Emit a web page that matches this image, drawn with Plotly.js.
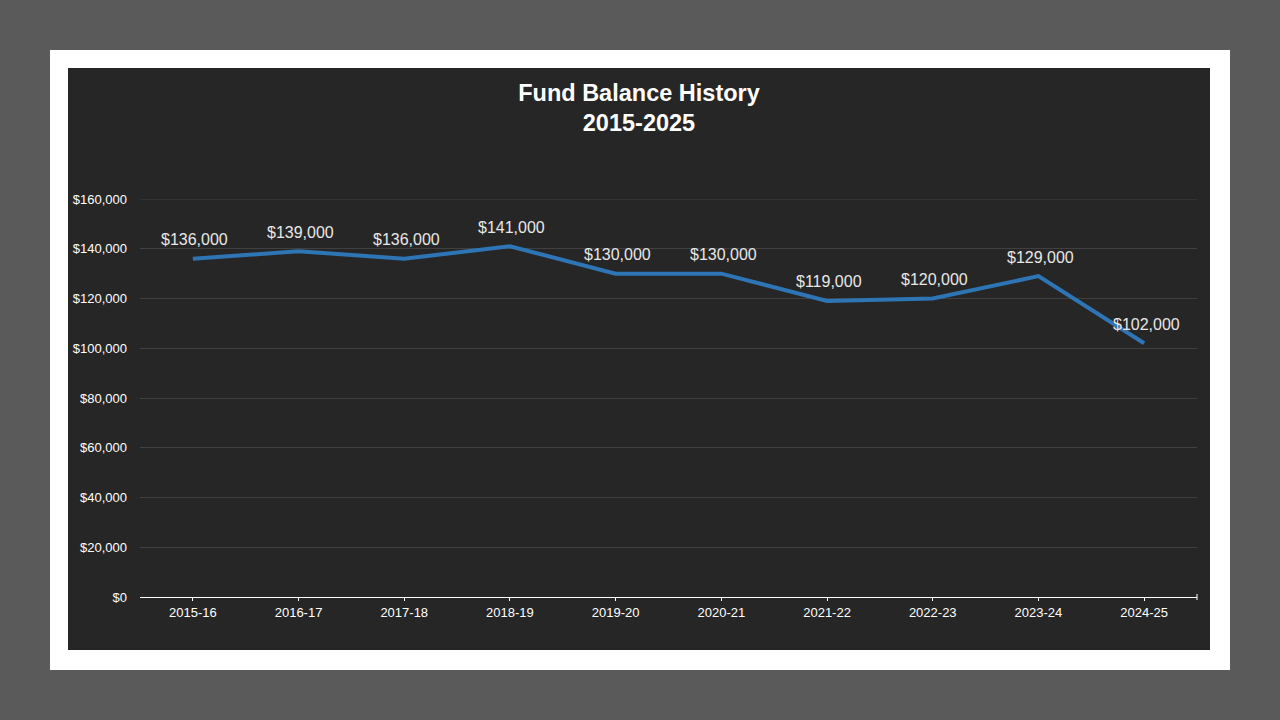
<!DOCTYPE html>
<html>
<head>
<meta charset="utf-8">
<script src="https://cdn.plot.ly/plotly-3.0.1.min.js"></script>
<style>
  html, body { margin: 0; padding: 0; width: 1280px; height: 720px; background: #5a5a5a; overflow: hidden; }
  #frame { position: absolute; left: 50px; top: 50px; width: 1180px; height: 620px; background: #ffffff; }
  #chart { position: absolute; left: 68px; top: 68px; width: 1142px; height: 582px; background: #262626; }
</style>
</head>
<body>
<div id="frame"></div>
<div id="chart"></div>
<script>
const categories = ["2015-16", "2016-17", "2017-18", "2018-19", "2019-20", "2020-21", "2021-22", "2022-23", "2023-24", "2024-25"];
const balances = [136000, 139000, 136000, 141000, 130000, 130000, 119000, 120000, 129000, 102000];
const labels = ["$136,000", "$139,000", "$136,000", "$141,000", "$130,000", "$130,000", "$119,000", "$120,000", "$129,000", "$102,000"];
const yMax = 160000;

const FONT = "Liberation Sans, Arial, sans-serif";

const trace = {
  x: categories,
  y: balances,
  type: "scatter",
  mode: "lines",
  line: { color: "#2e75b6", width: 4 },
  hoverinfo: "x+y",
  showlegend: false
};

const annotations = categories.map((c, i) => ({
  x: c,
  y: balances[i],
  xref: "x",
  yref: "y",
  text: labels[i],
  showarrow: false,
  xanchor: "center",
  yanchor: "middle",
  xshift: 2,
  yshift: 19,
  font: { family: FONT, size: 16, color: "#e8e8e8" }
}));

const layout = {
  width: 1142,
  height: 582,
  paper_bgcolor: "#262626",
  plot_bgcolor: "#262626",
  margin: { l: 72, r: 13, t: 131, b: 53 },
  title: {
    text: "<b>Fund Balance History<br>2015-2025</b>",
    font: { family: FONT, size: 23.5, color: "#ffffff" },
    x: 0.5,
    xanchor: "center",
    xref: "container",
    y: 0.944,
    yanchor: "middle",
    yref: "container"
  },
  xaxis: {
    type: "category",
    range: [-0.5, 9.5],
    showgrid: false,
    showline: true,
    linecolor: "#ffffff",
    linewidth: 1,
    ticks: "outside",
    ticklen: 3,
    tickcolor: "#ffffff",
    tickfont: { family: FONT, size: 13, color: "#ffffff" },
    fixedrange: true
  },
  yaxis: {
    range: [0, yMax],
    dtick: 20000,
    tickformat: "$,.0f",
    showgrid: true,
    gridcolor: "#404040",
    gridwidth: 1,
    zeroline: false,
    showline: false,
    ticks: "",
    ticklabelstandoff: 12,
    tickfont: { family: FONT, size: 13, color: "#ffffff" },
    fixedrange: true
  },
  annotations: annotations,
  shapes: [
    {
      type: "line",
      xref: "paper", yref: "y",
      x0: 0, x1: 1, y0: yMax, y1: yMax,
      layer: "below",
      line: { color: "#404040", width: 1 }
    },
    {
      type: "line",
      xref: "paper", yref: "paper",
      ysizemode: "pixel",
      yanchor: 0,
      x0: 1, x1: 1, y0: -3, y1: 3,
      line: { color: "#ffffff", width: 1 }
    }
  ]
};

Plotly.newPlot("chart", [trace], layout, { displayModeBar: false, staticPlot: true });
</script>
</body>
</html>
